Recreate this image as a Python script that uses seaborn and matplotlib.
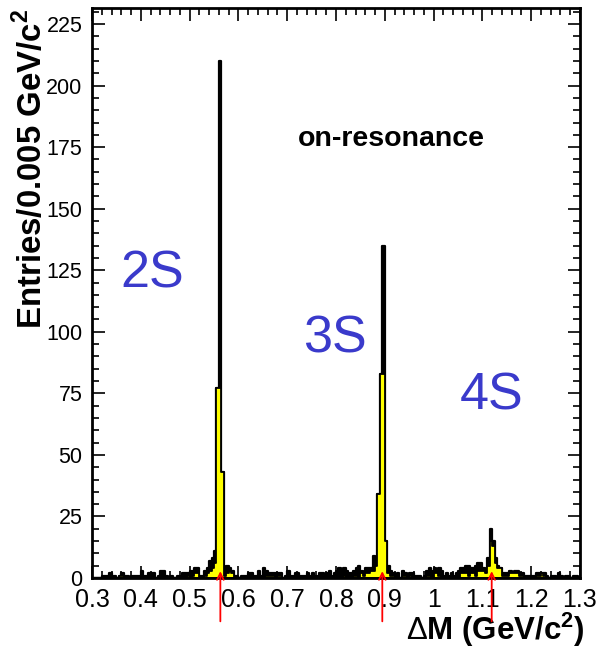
import numpy as np
import pandas as pd
import matplotlib
matplotlib.use("Agg")
import matplotlib.pyplot as plt
import matplotlib.transforms as mtransforms
from matplotlib.ticker import MultipleLocator
import seaborn as sns

# ---------------- data ----------------
x_min, x_max, bin_width = 0.3, 1.3, 0.005

# all candidates (entries per 0.005 GeV bin, 200 bins from 0.3 to 1.3)
total_counts = [
    0, 0, 0, 0, 1, 1, 1, 2, 1, 1,
    0, 1, 2, 1, 1, 0, 1, 1, 1, 1,
    3, 1, 1, 2, 2, 2, 0, 1, 3, 3,
    1, 0, 1, 0, 0, 1, 1, 2, 2, 2,
    3, 3, 4, 4, 1, 1, 3, 4, 7, 8,
    11, 77, 210, 43, 4, 5, 4, 3, 1, 1,
    0, 1, 1, 1, 2, 2, 1, 1, 3, 1,
    4, 3, 2, 2, 2, 2, 2, 2, 0, 1,
    3, 1, 1, 2, 2, 1, 1, 1, 2, 1,
    2, 1, 1, 2, 2, 1, 2, 3, 1, 2,
    3, 4, 2, 4, 3, 2, 2, 3, 4, 5,
    3, 2, 4, 4, 4, 9, 6, 34, 83, 135,
    15, 5, 3, 2, 1, 2, 0, 3, 2, 0,
    2, 2, 1, 1, 1, 0, 1, 3, 4, 3,
    4, 3, 4, 3, 1, 2, 1, 2, 1, 2,
    3, 4, 4, 5, 5, 4, 4, 5, 6, 6,
    4, 3, 8, 20, 15, 8, 5, 4, 2, 2,
    2, 3, 2, 3, 3, 2, 2, 1, 1, 1,
    1, 1, 2, 2, 2, 2, 1, 0, 1, 1,
    0, 2, 1, 0, 1, 1, 0, 1, 1, 0,
]

# selected subset (yellow)
selected_counts = [
    0, 0, 0, 0, 0, 0, 0, 0, 0, 0,
    0, 1, 1, 0, 0, 0, 0, 0, 0, 0,
    0, 0, 0, 0, 0, 0, 0, 0, 0, 0,
    0, 0, 0, 0, 0, 0, 0, 0, 0, 1,
    0, 1, 2, 2, 0, 0, 1, 2, 3, 4,
    6, 77, 77, 43, 1, 2, 3, 2, 0, 0,
    0, 0, 0, 0, 0, 0, 0, 0, 0, 0,
    0, 1, 1, 1, 1, 0, 1, 1, 0, 0,
    0, 0, 0, 0, 0, 0, 0, 0, 0, 0,
    0, 0, 0, 0, 0, 0, 0, 0, 0, 1,
    0, 0, 0, 1, 0, 0, 0, 1, 1, 0,
    2, 1, 2, 2, 3, 3, 5, 34, 83, 83,
    15, 2, 1, 1, 0, 1, 0, 1, 1, 0,
    1, 0, 0, 0, 0, 0, 0, 1, 1, 0,
    2, 2, 1, 0, 0, 0, 0, 0, 0, 0,
    0, 2, 2, 2, 1, 2, 2, 1, 3, 3,
    3, 2, 5, 15, 13, 6, 4, 4, 1, 1,
    1, 2, 2, 2, 2, 1, 1, 0, 0, 0,
    0, 0, 1, 1, 2, 1, 0, 0, 0, 0,
    0, 1, 0, 0, 0, 0, 0, 0, 0, 0,
]

peak_labels = ["2S", "3S", "4S"]
peak_positions = [0.5630, 0.8949, 1.1191]        # ΔM of Υ(nS) - Υ(1S)
peak_label_xy = [(0.423, 123.5), (0.797, 97.0), (1.119, 74.0)]

y_ticks = [0, 25, 50, 75, 100, 125, 150, 175, 200, 225]
x_ticks = [0.3, 0.4, 0.5, 0.6, 0.7, 0.8, 0.9, 1.0, 1.1, 1.2, 1.3]
x_tick_labels = ["0.3", "0.4", "0.5", "0.6", "0.7", "0.8", "0.9", "1", "1.1", "1.2", "1.3"]

# ---------------- build ----------------
bin_edges = [round(x_min + i * bin_width, 6) for i in range(len(total_counts) + 1)]
bin_centers = [0.5 * (a + b) for a, b in zip(bin_edges[:-1], bin_edges[1:])]
df = pd.DataFrame({"dm": bin_centers, "total": total_counts, "selected": selected_counts})

plt.rcParams["font.family"] = ["Liberation Sans", "DejaVu Sans"]
plt.rcParams["mathtext.fontset"] = "custom"
plt.rcParams["mathtext.rm"] = "Liberation Sans"
plt.rcParams["mathtext.bf"] = "Liberation Sans:bold"

fig = plt.figure(figsize=(5.96, 6.51), dpi=100)
ax = fig.add_axes([0.1544, 0.1121, 0.8187, 0.8756])

sns.histplot(data=df, x="dm", weights="total", bins=bin_edges, element="step",
             fill=True, color="black", alpha=1.0, linewidth=1.6, ax=ax, zorder=2)
sns.histplot(data=df, x="dm", weights="selected", bins=bin_edges, element="step",
             fill=True, facecolor="#ffff00", edgecolor="black", alpha=1.0,
             linewidth=1.3, ax=ax, zorder=3)

ax.set_xlim(x_min, x_max)
ax.set_ylim(0, 231.5)
ax.set_xticks(x_ticks)
ax.set_xticklabels(x_tick_labels)
ax.set_yticks(y_ticks)
ax.xaxis.set_minor_locator(MultipleLocator(0.02))
ax.yaxis.set_minor_locator(MultipleLocator(5))
ax.tick_params(which="both", direction="in", top=True, right=True, width=1.2, color="black")
ax.tick_params(which="major", length=9)
ax.tick_params(which="minor", length=5)
ax.tick_params(axis="y", labelsize=15.5, pad=7)
ax.tick_params(axis="x", labelsize=18, pad=7)
for sp in ax.spines.values():
    sp.set_linewidth(2)
    sp.set_zorder(5)

ax.set_ylabel(r"Entries/0.005 GeV/c$^{\mathbf{2}}$", fontsize=23.8, fontweight="bold", loc="top")
ax.yaxis.set_label_coords(-0.088, 1.0)
ax.set_xlabel(r"$\Delta$M (GeV/c$^{\mathbf{2}}$)", fontsize=22.5, fontweight="bold", loc="right")
ax.xaxis.set_label_coords(1.01, -0.058)

ax.text(0.914, 178.3, "on-resonance", fontsize=20.5, fontweight="bold",
        ha="center", va="center", zorder=6)
for lab, (lx, ly) in zip(peak_labels, peak_label_xy):
    ax.text(lx, ly, lab, fontsize=37.5, color="#3a3acb", ha="center", va="center", zorder=6)

trans = mtransforms.blended_transform_factory(ax.transData, ax.transAxes)
for px in peak_positions:
    ax.annotate("", xy=(px, 0.012), xycoords=trans, xytext=(px, -0.076), textcoords=trans,
                arrowprops=dict(arrowstyle="->", color="red", lw=1.3, mutation_scale=12,
                                shrinkA=0, shrinkB=0),
                annotation_clip=False, zorder=7)

fig.savefig("out.png", dpi=100)
